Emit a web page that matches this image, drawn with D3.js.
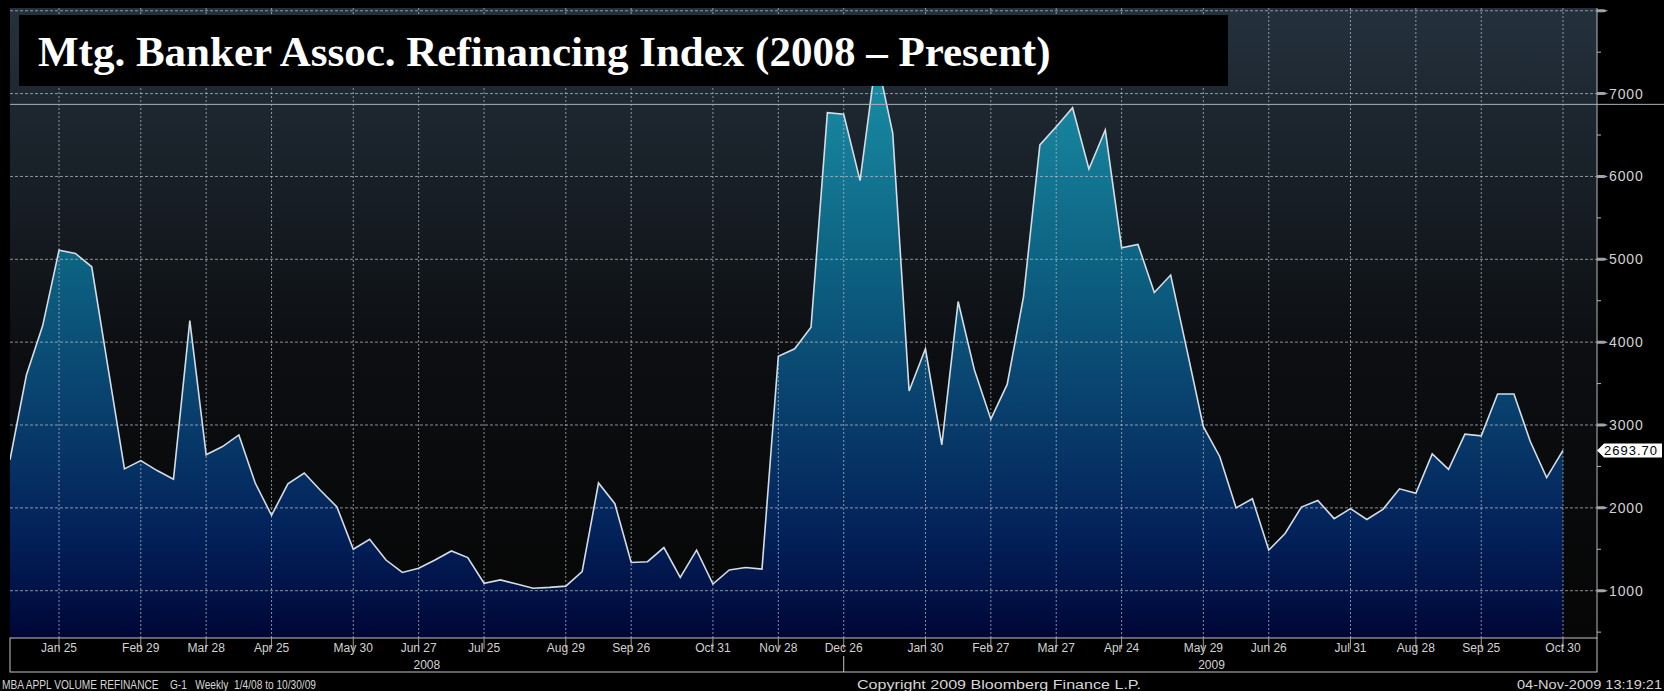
<!DOCTYPE html>
<html>
<head>
<meta charset="utf-8">
<script src="https://cdn.jsdelivr.net/npm/d3@7"></script>
<style>
  html, body { margin: 0; padding: 0; background: #000; }
  svg { display: block; }
</style>
</head>
<body>
<div class="canva"></div>
<script>
// weekly MBA refinance index, 1/4/08 .. 10/30/09
const startDate = '2008-01-04'
const values = [
  2580, 3600, 4200, 5110, 5070, 4910, 3690, 2470, 2570, 2450,
  2345, 4260, 2640, 2740, 2880, 2300, 1910, 2290, 2420, 2210,
  2010, 1500, 1620, 1370, 1220, 1270, 1370, 1480, 1400, 1090,
  1130, 1080, 1030, 1040, 1055, 1230, 2300, 2050, 1340, 1350,
  1520, 1160, 1490, 1080, 1250, 1280, 1260, 3830, 3920, 4180,
  6770, 6750, 5950, 7450, 6520, 3410, 3920, 2760, 4490, 3660,
  3070, 3490, 4550, 6380, 6600, 6830, 6090, 6560, 5140, 5180,
  4600, 4810, 3900, 2980, 2620, 2000, 2110, 1490, 1690, 2010,
  2090, 1870, 1990, 1860, 1985, 2230, 2175, 2650, 2465, 2890,
  2870, 3375, 3375, 2800, 2365, 2693.70
]
const lastLabel = '2693.70'
const refLine = 6870

const tickDates = [
  '2008-01-25', '2008-02-29', '2008-03-28', '2008-04-25', '2008-05-30', '2008-06-27',
  '2008-07-25', '2008-08-29', '2008-09-26', '2008-10-31', '2008-11-28', '2008-12-26',
  '2009-01-30', '2009-02-27', '2009-03-27', '2009-04-24', '2009-05-29', '2009-06-26',
  '2009-07-31', '2009-08-28', '2009-09-25', '2009-10-30'
]
const yTicks = [1000, 2000, 3000, 4000, 5000, 6000, 7000, 8000]
const yLabels = ['1000', '2000', '3000', '4000', '5000', '6000', '7000', '']
const years = [
  {label: '2008', from: '2008-01-04', to: '2008-12-26'},
  {label: '2009', from: '2009-01-02', to: '2009-10-30'}
]
const yearSplit = '2008-12-26'

const title = 'Mtg. Banker Assoc. Refinancing Index (2008 \u2013 Present)'
const footLeft = 'MBA APPL VOLUME REFINANCE    G-1   Weekly  1/4/08 to 10/30/09'
const footMid = 'Copyright 2009 Bloomberg Finance L.P.'
const footRight = '04-Nov-2009 13:19:21'

const parse = d3.timeParse('%Y-%m-%d')
const fmt = d3.timeFormat('%b %d')
const t0 = parse(startDate)
const data = values.map((v, i) => ({date: d3.timeDay.offset(t0, 7 * i), v: v}))

// layout
const W = 1664, H = 691
const L = 10, R = 1597, T = 8, B = 638

const svg = d3.select('.canva').append('svg')
  .attr('width', W)
  .attr('height', H)
svg.append('rect').attr('width', W).attr('height', H).attr('fill', '#000')

const x = d3.scaleTime()
  .domain([t0, data[data.length - 1].date])
  .range([L, 1563])
const y = d3.scaleLinear()
  .domain([1000, 7000])
  .range([590.7, 93.6])

const defs = svg.append('defs')
const bg = defs.append('linearGradient').attr('id', 'bg')
  .attr('gradientUnits', 'userSpaceOnUse')
  .attr('x1', 0).attr('x2', 0).attr('y1', T).attr('y2', B)
bg.append('stop').attr('offset', '0%').attr('stop-color', '#24313d')
bg.append('stop').attr('offset', '55%').attr('stop-color', '#0c0e11')
bg.append('stop').attr('offset', '100%').attr('stop-color', '#060606')

const fill = defs.append('linearGradient').attr('id', 'fill')
  .attr('gradientUnits', 'userSpaceOnUse')
  .attr('x1', 0).attr('x2', 0).attr('y1', 60).attr('y2', B)
fill.append('stop').attr('offset', '0%').attr('stop-color', '#1a90a6')
fill.append('stop').attr('offset', '35%').attr('stop-color', '#0d6282')
fill.append('stop').attr('offset', '62%').attr('stop-color', '#083d6b')
fill.append('stop').attr('offset', '82%').attr('stop-color', '#03215a')
fill.append('stop').attr('offset', '100%').attr('stop-color', '#000636')

defs.append('clipPath').attr('id', 'clip')
  .append('rect').attr('x', L).attr('y', T).attr('width', R - L).attr('height', B - T)

// plot background
svg.append('rect')
  .attr('x', L).attr('y', T).attr('width', R - L).attr('height', B - T)
  .attr('fill', 'url(#bg)')

const plot = svg.append('g').attr('clip-path', 'url(#clip)')

const area = d3.area()
  .x(d => x(d.date))
  .y0(B)
  .y1(d => y(d.v))
plot.append('path')
  .datum(data)
  .attr('d', area)
  .attr('fill', 'url(#fill)')

// grid
plot.selectAll('.hgrid')
  .data(yTicks)
  .enter().append('line')
  .attr('x1', L).attr('x2', R)
  .attr('y1', d => y(d)).attr('y2', d => y(d))
  .attr('stroke', '#b4bcc4')
  .attr('stroke-opacity', 0.75)
  .attr('stroke-dasharray', '3,2')

plot.selectAll('.vgrid')
  .data(tickDates)
  .enter().append('line')
  .attr('x1', d => x(parse(d))).attr('x2', d => x(parse(d)))
  .attr('y1', T).attr('y2', B)
  .attr('stroke', '#b4bcc4')
  .attr('stroke-opacity', 0.75)
  .attr('stroke-dasharray', '2,2')

const line = d3.line()
  .x(d => x(d.date))
  .y(d => y(d.v))
plot.append('path')
  .datum(data)
  .attr('d', line)
  .attr('fill', 'none')
  .attr('stroke', '#d4dce4')
  .attr('stroke-width', 1.6)
  .attr('stroke-linejoin', 'miter')

// reference line across
svg.append('line')
  .attr('x1', L).attr('x2', W)
  .attr('y1', y(refLine)).attr('y2', y(refLine))
  .attr('stroke', '#aab2b9')
  .attr('stroke-width', 1)

// title box
svg.append('rect')
  .attr('x', 19).attr('y', 15).attr('width', 1209).attr('height', 71)
  .attr('fill', '#000')
svg.append('text')
  .text(title)
  .attr('x', 38).attr('y', 66)
  .attr('fill', '#fff')
  .style('font-family', '"Liberation Serif", "Times New Roman", serif')
  .style('font-weight', 'bold')
  .style('font-size', '43px')

// right axis
svg.append('line')
  .attr('x1', R).attr('x2', R).attr('y1', T).attr('y2', B)
  .attr('stroke', '#b4b9be')

const minor = d3.range(0, yTicks.length).map(i => yTicks[i] - 500)
svg.selectAll('.minor')
  .data(minor)
  .enter().append('line')
  .attr('x1', R).attr('x2', R + 4)
  .attr('y1', d => y(d)).attr('y2', d => y(d))
  .attr('stroke', '#b4b9be')

svg.selectAll('.major')
  .data(yTicks)
  .enter().append('path')
  .attr('d', d => {
    const yy = y(d)
    return `M${R},${yy - 1.5}L${R + 7},${yy - 1.5}L${R + 11},${yy}L${R + 7},${yy + 1.5}L${R},${yy + 1.5}Z`
  })
  .attr('fill', '#9ea4a9')

svg.selectAll('.ylab')
  .data(yTicks)
  .enter().append('text')
  .text((d, i) => yLabels[i])
  .attr('x', R + 12)
  .attr('y', d => y(d) + 5)
  .attr('fill', '#d2d2d2')
  .style('font-family', '"Liberation Sans", Arial, sans-serif')
  .style('font-size', '14px')
  .style('letter-spacing', '0.9px')

// last value marker
const last = data[data.length - 1]
const ly = y(last.v)
svg.append('path')
  .attr('d', `M${R},${ly}L${R + 7},${ly - 7}L${W - 2},${ly - 7}L${W - 2},${ly + 7}L${R + 7},${ly + 7}Z`)
  .attr('fill', '#fff')
svg.append('text')
  .text(lastLabel)
  .attr('x', R + 7)
  .attr('y', ly + 5)
  .attr('fill', '#000')
  .style('font-family', '"Liberation Sans", Arial, sans-serif')
  .style('font-size', '13px')
  .style('letter-spacing', '1px')

// x axis band
svg.append('rect')
  .attr('x', L).attr('y', B).attr('width', R - L).attr('height', 34)
  .attr('fill', '#000')
  .attr('stroke', '#c4c4c4')

svg.selectAll('.xtick')
  .data(tickDates)
  .enter().append('line')
  .attr('x1', d => x(parse(d))).attr('x2', d => x(parse(d)))
  .attr('y1', B).attr('y2', B + 11)
  .attr('stroke', '#9a9a9a')

svg.selectAll('.xlab')
  .data(tickDates)
  .enter().append('text')
  .text(d => fmt(parse(d)))
  .attr('x', d => x(parse(d)))
  .attr('y', B + 13.5)
  .attr('text-anchor', 'middle')
  .attr('fill', '#d2d2d2')
  .style('font-family', '"Liberation Sans", Arial, sans-serif')
  .style('font-size', '12px')

svg.append('line')
  .attr('x1', x(parse(yearSplit))).attr('x2', x(parse(yearSplit)))
  .attr('y1', B + 18).attr('y2', B + 34)
  .attr('stroke', '#c4c4c4')

svg.selectAll('.year')
  .data(years)
  .enter().append('text')
  .text(d => d.label)
  .attr('x', d => (x(parse(d.from)) + x(parse(d.to))) / 2)
  .attr('y', B + 30.5)
  .attr('text-anchor', 'middle')
  .attr('fill', '#d2d2d2')
  .style('font-family', '"Liberation Sans", Arial, sans-serif')
  .style('font-size', '12px')

// footer
const foot = [
  {t: footLeft, x: 2, len: 314},
  {t: footMid, x: 857, len: 284},
  {t: footRight, x: 1517, len: 145}
]
svg.selectAll('.foot')
  .data(foot)
  .enter().append('text')
  .text(d => d.t)
  .attr('x', d => d.x)
  .attr('y', 688.5)
  .attr('xml:space', 'preserve')
  .attr('textLength', d => d.len)
  .attr('lengthAdjust', 'spacingAndGlyphs')
  .attr('fill', '#d6d6d6')
  .style('white-space', 'pre')
  .style('font-family', '"Liberation Sans", Arial, sans-serif')
  .style('font-size', '12.5px')
</script>
</body>
</html>
